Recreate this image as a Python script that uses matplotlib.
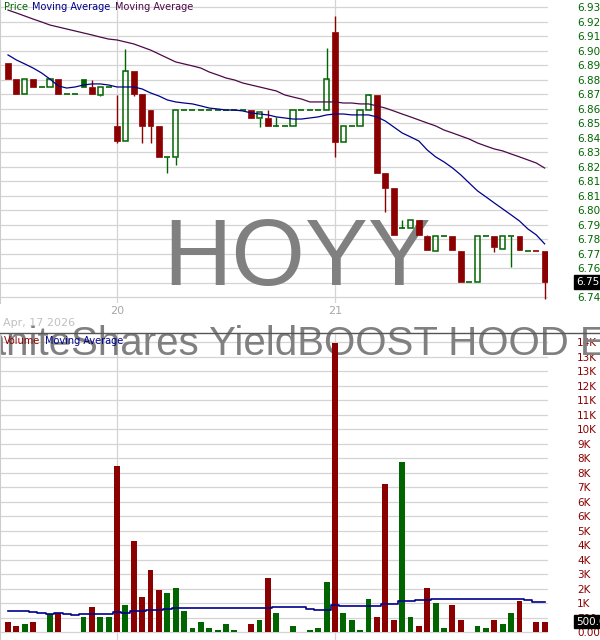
import matplotlib
matplotlib.use("Agg")
import matplotlib.pyplot as plt
import numpy as np
from matplotlib.lines import Line2D
from matplotlib.transforms import blended_transform_factory

# 15 minute bars: end of Apr 17, then Apr 20 and Apr 21
opens = [6.8933, 6.8828, 6.8730, 6.8828, 6.8776, 6.8776, 6.8828, 6.8730, 6.8730, 6.8828,
         6.8776, 6.8724, 6.8776, 6.8521, 6.8422, 6.8881, 6.8730, 6.8625, 6.8521, 6.8318,
         6.8318, 6.8625, 6.8625, 6.8625, 6.8625, 6.8625, 6.8625, 6.8625, 6.8625, 6.8625,
         6.8573, 6.8573, 6.8521, 6.8521, 6.8521, 6.8625, 6.8625, 6.8625, 6.8625, 6.9136,
         6.8416, 6.8521, 6.8521, 6.8625, 6.8724, 6.8213, 6.8114, 6.7852, 6.7852, 6.7905,
         6.7800, 6.7702, 6.7800, 6.7800, 6.7702, 6.7499, 6.7499, 6.7800, 6.7800, 6.7715,
         6.7800, 6.7800, 6.7702, 6.7702, 6.7702]
highs = [6.8933, 6.8828, 6.8828, 6.8828, 6.8776, 6.8828, 6.8828, 6.8730, 6.8730, 6.8828,
         6.8822, 6.8776, 6.8776, 6.8724, 6.9025, 6.8881, 6.8730, 6.8625, 6.8521, 6.8318,
         6.8625, 6.8625, 6.8625, 6.8625, 6.8625, 6.8625, 6.8625, 6.8625, 6.8625, 6.8625,
         6.8612, 6.8625, 6.8580, 6.8521, 6.8625, 6.8625, 6.8625, 6.8625, 6.9031, 6.9241,
         6.8521, 6.8521, 6.8625, 6.8730, 6.8724, 6.8213, 6.8114, 6.7905, 6.7905, 6.7905,
         6.7807, 6.7800, 6.7800, 6.7800, 6.7702, 6.7499, 6.7800, 6.7800, 6.7800, 6.7800,
         6.7800, 6.7800, 6.7702, 6.7702, 6.7702]
lows = [6.8828, 6.8730, 6.8730, 6.8776, 6.8776, 6.8776, 6.8730, 6.8730, 6.8730, 6.8776,
        6.8730, 6.8717, 6.8776, 6.8409, 6.8422, 6.8717, 6.8409, 6.8409, 6.8318, 6.8213,
        6.8265, 6.8625, 6.8625, 6.8625, 6.8625, 6.8625, 6.8625, 6.8625, 6.8625, 6.8573,
        6.8514, 6.8521, 6.8521, 6.8521, 6.8521, 6.8625, 6.8625, 6.8625, 6.8625, 6.8318,
        6.8416, 6.8521, 6.8521, 6.8625, 6.8213, 6.7957, 6.7807, 6.7852, 6.7852, 6.7807,
        6.7708, 6.7702, 6.7800, 6.7708, 6.7499, 6.7499, 6.7499, 6.7800, 6.7695, 6.7715,
        6.7597, 6.7708, 6.7702, 6.7702, 6.7387]
closes = [6.8828, 6.8730, 6.8828, 6.8776, 6.8776, 6.8828, 6.8730, 6.8730, 6.8730, 6.8776,
          6.8730, 6.8776, 6.8776, 6.8422, 6.8881, 6.8730, 6.8521, 6.8521, 6.8318, 6.8318,
          6.8625, 6.8625, 6.8625, 6.8625, 6.8625, 6.8625, 6.8625, 6.8625, 6.8625, 6.8573,
          6.8612, 6.8521, 6.8521, 6.8521, 6.8625, 6.8625, 6.8625, 6.8625, 6.8828, 6.8416,
          6.8521, 6.8521, 6.8625, 6.8724, 6.8213, 6.8114, 6.7807, 6.7852, 6.7905, 6.7807,
          6.7708, 6.7800, 6.7800, 6.7708, 6.7499, 6.7499, 6.7800, 6.7800, 6.7728, 6.7800,
          6.7800, 6.7708, 6.7702, 6.7702, 6.7499]
# r = down vs previous close, g = up
bar_dirs = "rrgrggrgggrggrgrrrrggggggggggrgrgggggggrggggrrrggrrggrrgggrggrgrr"
volumes = [480, 290, 390, 480, 0, 870, 920, 0, 0, 720,
           1200, 720, 720, 8000, 1300, 4400, 1690, 3000, 2030, 1880,
           2130, 1010, 190, 480, 190, 100, 390, 100, 0, 390,
           580, 2600, 920, 0, 290, 0, 100, 190, 2420, 13950,
           920, 580, 100, 1600, 720, 7150, 580, 8200, 720, 290,
           2130, 1400, 190, 1300, 580, 0, 290, 190, 580, 390,
           920, 1500, 0, 480, 500]
vol_ma = [1000, 1000, 1000, 950, 900, 850, 900, 850, 800, 850,
          850, 850, 850, 980, 920, 1000, 1000, 1050, 1050, 1100,
          1140, 1140, 1140, 1140, 1140, 1140, 1140, 1140, 1140, 1140,
          1140, 1140, 1190, 1190, 1190, 1190, 1100, 1080, 1050, 1290,
          1240, 1240, 1240, 1240, 1240, 1340, 1340, 1480, 1480, 1530,
          1530, 1580, 1580, 1580, 1580, 1580, 1580, 1580, 1580, 1580,
          1580, 1580, 1550, 1450, 1430]
ma_fast = [6.8986, 6.8953, 6.8927, 6.8900, 6.8868, 6.8828, 6.8783, 6.8769, 6.8776, 6.8789,
           6.8796, 6.8796, 6.8789, 6.8776, 6.8776, 6.8776, 6.8763, 6.8737, 6.8717, 6.8691,
           6.8678, 6.8671, 6.8665, 6.8652, 6.8638, 6.8632, 6.8625, 6.8625, 6.8619, 6.8606,
           6.8599, 6.8593, 6.8580, 6.8573, 6.8566, 6.8566, 6.8573, 6.8580, 6.8593, 6.8599,
           6.8599, 6.8593, 6.8593, 6.8593, 6.8580, 6.8553, 6.8514, 6.8475, 6.8449, 6.8422,
           6.8363, 6.8318, 6.8285, 6.8246, 6.8200, 6.8147, 6.8095, 6.8056, 6.8016, 6.7977,
           6.7938, 6.7898, 6.7846, 6.7807, 6.7748]
ma_slow = [6.9280, 6.9261, 6.9241, 6.9221, 6.9202, 6.9182, 6.9169, 6.9156, 6.9143, 6.9130,
           6.9117, 6.9103, 6.9090, 6.9084, 6.9071, 6.9058, 6.9038, 6.9018, 6.8992, 6.8966,
           6.8940, 6.8927, 6.8914, 6.8900, 6.8874, 6.8855, 6.8835, 6.8822, 6.8802, 6.8789,
           6.8776, 6.8763, 6.8750, 6.8724, 6.8710, 6.8697, 6.8678, 6.8678, 6.8678, 6.8678,
           6.8671, 6.8671, 6.8665, 6.8665, 6.8652, 6.8638, 6.8619, 6.8599, 6.8580, 6.8560,
           6.8540, 6.8521, 6.8494, 6.8475, 6.8455, 6.8435, 6.8409, 6.8389, 6.8370, 6.8357,
           6.8337, 6.8318, 6.8298, 6.8278, 6.8245]

price_ticks = np.linspace(6.74, 6.93, 21)
price_labels = ["6.74", "6.75", "6.76", "6.77", "6.78", "6.79", "6.80", "6.81", "6.81", "6.82",
                "6.83", "6.84", "6.85", "6.86", "6.87", "6.88", "6.89", "6.90", "6.91", "6.92", "6.93"]
vol_ticks = np.arange(0, 14001, 700)
vol_labels = ["0.00", "700.0", "1K", "2K", "3K", "4K", "4K", "5K", "6K", "6K", "7K",
              "8K", "8K", "9K", "10K", "11K", "11K", "12K", "13K", "13K", "14K"]
day_starts = [13, 39]
day_labels = ["20", "21"]
last_price_label = "6.75"
last_vol_label = "500.0"

RED = "#8b0000"
GREEN = "#006400"
GRID = "#d4d4d4"

W, H = 600, 640
def px_box(x0, y0, x1, y1):
    return [x0 / W, 1 - y1 / H, (x1 - x0) / W, (y1 - y0) / H]

fig = plt.figure(figsize=(6, 6.4), dpi=100)
ax = fig.add_axes(px_box(0, 0, 548, 303))
axv = fig.add_axes(px_box(0, 333, 548, 640))

idx = np.arange(len(closes))
xlim = (-0.954, 64.40)

# price panel
for i in idx:
    o, h, l, c = opens[i], highs[i], lows[i], closes[i]
    col = RED if bar_dirs[i] == "r" else GREEN
    top, bot = max(o, c), min(o, c)
    if h > top:
        ax.vlines(i, top, h, color=col, lw=1.0, zorder=3)
    if l < bot:
        ax.vlines(i, l, bot, color=col, lw=1.0, zorder=3)
    if abs(c - o) < 1e-4:
        ax.hlines(c, i - 0.36, i + 0.36, color=col, lw=1.2, zorder=3)
    elif c < o:
        ax.bar(i, o - c, bottom=c, width=0.7, color=col, edgecolor=col, lw=0.5, zorder=3)
    else:
        ax.bar(i, c - o, bottom=o, width=0.64, facecolor="none", edgecolor=col, lw=1.1, zorder=3)

ax.plot(idx, ma_fast, color="#00008b", lw=0.9, zorder=4)
ax.plot(idx, ma_slow, color="#4b0a46", lw=0.9, zorder=4)

ax.set_xlim(*xlim)
ax.set_ylim(6.73607, 6.93459)
ax.set_yticks(price_ticks)
ax.set_yticklabels(price_labels)
ax.yaxis.tick_right()
ax.tick_params(axis="y", length=0, pad=21, labelsize=7.5, labelcolor="#006600")
ax.set_xticks(day_starts)
ax.set_xticklabels(day_labels)
ax.tick_params(axis="x", length=0, pad=2, labelsize=8, labelcolor="#a8a8a8")
ax.grid(axis="y", color=GRID, lw=0.9)
ax.set_axisbelow(True)
for d in day_starts:
    ax.axvline(d, color=GRID, lw=0.9, zorder=0.5)
for s in ["top", "right", "bottom"]:
    ax.spines[s].set_visible(False)
ax.spines["left"].set_color("#cccccc")

ax.text(297 / W, 1 - 285 / H, "HOYY", transform=fig.transFigure, ha="center", va="baseline",
        fontsize=68, family="Liberation Sans", color="#808080", zorder=1)

trp = blended_transform_factory(fig.transFigure, ax.transData)
ax.text(576 / W, closes[-1], last_price_label, transform=trp, ha="left", va="center",
        fontsize=7.5, color="white", zorder=10, clip_on=False,
        bbox=dict(facecolor="black", edgecolor="black", pad=1.2))

# volume panel
vcols = [RED if d == "r" else GREEN for d in bar_dirs]
axv.bar(idx, volumes, width=0.7, color=vcols, zorder=2)
axv.plot(idx, vol_ma, color="#00008b", lw=1.2, drawstyle="steps-mid", zorder=3)
axv.set_xlim(*xlim)
axv.set_ylim(-386, 14436)
axv.set_yticks(vol_ticks)
axv.set_yticklabels(vol_labels)
axv.yaxis.tick_right()
axv.tick_params(axis="y", length=0, pad=21, labelsize=7.5, labelcolor=RED)
axv.set_xticks([])
axv.grid(axis="y", color=GRID, lw=0.9)
axv.set_axisbelow(True)
for d in day_starts:
    axv.axvline(d, color=GRID, lw=0.9, zorder=0.5)
for s in ["top", "right", "bottom"]:
    axv.spines[s].set_visible(False)
axv.spines["left"].set_color("#cccccc")

axv.text(297 / W, 1 - 355 / H, "GraniteShares YieldBOOST HOOD ETF", transform=fig.transFigure,
         ha="center", va="baseline", fontsize=29, family="Liberation Sans", color="#808080", zorder=1)

trv = blended_transform_factory(fig.transFigure, axv.transData)
axv.text(576 / W, volumes[-1], last_vol_label, transform=trv, ha="left", va="center",
         fontsize=7.5, color="white", zorder=10, clip_on=False,
         bbox=dict(facecolor="black", edgecolor="black", pad=1.2))

fig.add_artist(Line2D([0, 1], [1 - 333 / H] * 2, color="#555555", lw=1.0))

# panel titles
fig.text(4 / W, 1 - 7 / H, "Price", color=GREEN, fontsize=7, va="center")
fig.text(32 / W, 1 - 7 / H, "Moving Average", color="#00008b", fontsize=7, va="center")
fig.text(115 / W, 1 - 7 / H, "Moving Average", color="#4b0a46", fontsize=7, va="center")
fig.text(4 / W, 1 - 341 / H, "Volume", color=RED, fontsize=7, va="center")
fig.text(45 / W, 1 - 341 / H, "Moving Average", color="#00008b", fontsize=7, va="center")
fig.text(3 / W, 1 - 323 / H, "Apr, 17 2026", color="#c0c0c0", fontsize=8, va="center")

fig.savefig("out.png", dpi=100)
